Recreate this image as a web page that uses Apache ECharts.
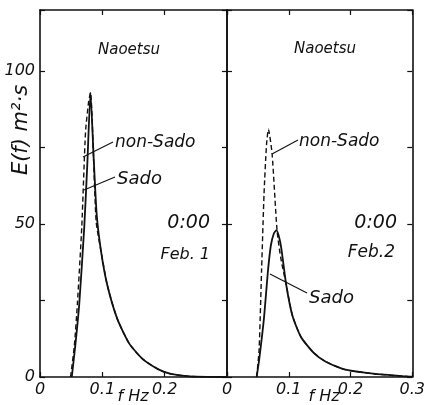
<!DOCTYPE html>
<html><head><meta charset="utf-8">
<script src="https://cdn.jsdelivr.net/npm/echarts@6/dist/echarts.min.js"></script>
<style>html,body{margin:0;padding:0;background:#fff}#c{width:428px;height:405px}</style>
</head><body><div id="c"></div>
<script>
// ---- data ----
const feb1NonSadoF = [0.049, 0.055, 0.060, 0.067, 0.073, 0.078, 0.081, 0.090, 0.098, 0.108, 0.124, 0.143, 0.164, 0.19, 0.21, 0.24, 0.30];
const feb1NonSadoE = [0, 10, 24, 49, 80, 90, 93, 51, 41, 30, 19, 11, 6, 2.5, 1, 0.2, 0];
const feb1SadoF = [0.051, 0.057, 0.063, 0.071, 0.076, 0.081, 0.086, 0.091, 0.098, 0.108, 0.124, 0.143, 0.164, 0.19, 0.21, 0.24, 0.30];
const feb1SadoE = [0, 11, 24, 49, 70, 93, 72, 53, 41, 30, 19, 11, 6, 2.5, 1, 0.2, 0];
const feb2NonSadoF = [0.048, 0.052, 0.056, 0.060, 0.064, 0.067, 0.073, 0.081, 0.087, 0.096, 0.106, 0.12, 0.14, 0.16, 0.19, 0.24, 0.29, 0.30];
const feb2NonSadoE = [0, 9, 35, 60, 76, 81, 73, 48, 39, 30, 20, 13, 8, 5, 2.5, 1, 0.2, 0.1];
const feb2SadoF = [0.048, 0.052, 0.060, 0.066, 0.071, 0.076, 0.080, 0.084, 0.088, 0.096, 0.106, 0.12, 0.14, 0.16, 0.19, 0.24, 0.29, 0.30];
const feb2SadoE = [0, 5.5, 19.5, 34, 43, 47, 48, 46, 42, 30, 20, 13, 8, 5, 2.5, 1, 0.2, 0.1];
const xTicks = [0, 0.1, 0.2, 0.3];
const yTickLabels = [0, 50, 100];

const pair = (f, e) => f.map((v, i) => [v, e[i]]);
const FONT = 'DejaVu Sans';
const INK = '#111';

const chart = echarts.init(document.getElementById('c'), null, {renderer: 'canvas'});

function xAx(grid, pos, labels, hideLast) {
  return {
    type: 'value', gridIndex: grid, position: pos, min: 0, max: 0.3, interval: 0.1,
    axisLine: {show: true, onZero: false, lineStyle: {color: INK, width: 1.6}},
    axisTick: {show: true, inside: true, length: 5, lineStyle: {color: INK, width: 1.2}},
    splitLine: {show: false},
    axisLabel: {show: labels, margin: 5, color: INK, fontFamily: FONT, fontStyle: 'italic', fontSize: 16,
      formatter: v => (hideLast && v > 0.25) ? '' : String(xTicks.find(t => Math.abs(t - v) < 1e-6))}
  };
}
function yAx(grid, pos, labels, interval, tickLen) {
  return {
    type: 'value', gridIndex: grid, position: pos, min: 0, max: 120, interval: interval,
    axisLine: {show: true, onZero: false, lineStyle: {color: INK, width: 1.6}},
    axisTick: {show: true, inside: true, length: tickLen, lineStyle: {color: INK, width: 1.2}},
    splitLine: {show: false},
    axisLabel: {show: labels, margin: 5, color: INK, fontFamily: FONT, fontStyle: 'italic', fontSize: 16,
      formatter: v => yTickLabels.includes(v) ? String(v) : ''}
  };
}

const solid = {color: INK, width: 1.8};
const dashed = {color: INK, width: 1.4, type: [5, 3]};

function txt(x, y, s, size, align) {
  return {type: 'text', x: x, y: y, style: {text: s, fill: INK, font: 'italic ' + size + 'px "' + FONT + '"',
    textAlign: align || 'left', textVerticalAlign: 'middle'}};
}
function seg(x1, y1, x2, y2) {
  return {type: 'line', shape: {x1, y1, x2, y2}, style: {stroke: INK, lineWidth: 1.1}};
}

chart.setOption({
  animation: false,
  backgroundColor: '#fff',
  grid: [
    {left: 40, right: 201, top: 10, bottom: 28},
    {left: 227, right: 13, top: 10, bottom: 28}
  ],
  xAxis: [xAx(0, 'bottom', true, true), xAx(0, 'top', false, false), xAx(1, 'bottom', true, false), xAx(1, 'top', false, false)],
  yAxis: [yAx(0, 'left', true, 25, 5), yAx(0, 'right', false, 25, 5), yAx(1, 'left', false, 50, 5), yAx(1, 'right', false, 25, 5)],
  series: [
    {type: 'line', name: 'non-Sado Feb.1', xAxisIndex: 0, yAxisIndex: 0, data: pair(feb1NonSadoF, feb1NonSadoE), showSymbol: false, smooth: 0.2, lineStyle: dashed, z: 2},
    {type: 'line', name: 'Sado Feb.1', xAxisIndex: 0, yAxisIndex: 0, data: pair(feb1SadoF, feb1SadoE), showSymbol: false, smooth: 0.2, lineStyle: solid, z: 3},
    {type: 'line', name: 'non-Sado Feb.2', xAxisIndex: 2, yAxisIndex: 2, data: pair(feb2NonSadoF, feb2NonSadoE), showSymbol: false, smooth: 0.2, lineStyle: dashed, z: 2},
    {type: 'line', name: 'Sado Feb.2', xAxisIndex: 2, yAxisIndex: 2, data: pair(feb2SadoF, feb2SadoE), showSymbol: false, smooth: 0.2, lineStyle: solid, z: 3}
  ],
  graphic: [
    {type: 'text', x: 22, y: 130, rotation: Math.PI / 2,
      style: {text: 'E(f) m²·s', fill: INK, font: 'italic 21px "' + FONT + '"', textAlign: 'center', textVerticalAlign: 'middle'}},
    txt(129, 50, 'Naoetsu', 15, 'center'),
    txt(325, 49, 'Naoetsu', 15, 'center'),
    txt(115, 143, 'non-Sado', 17),
    txt(117, 179, 'Sado', 18),
    txt(210, 223, '0:00', 19, 'right'),
    txt(210, 255, 'Feb. 1', 16, 'right'),
    txt(299, 142, 'non-Sado', 17),
    txt(397, 223, '0:00', 19, 'right'),
    txt(395, 253, 'Feb.2', 17, 'right'),
    txt(309, 298, 'Sado', 18),
    txt(133, 397, 'f Hz', 16, 'center'),
    txt(324, 397, 'f Hz', 16, 'center'),
    seg(83, 157, 113, 142),
    seg(84, 190, 115, 177),
    seg(272, 154, 298, 140),
    seg(270, 274, 307, 293)
  ]
});
</script></body></html>
